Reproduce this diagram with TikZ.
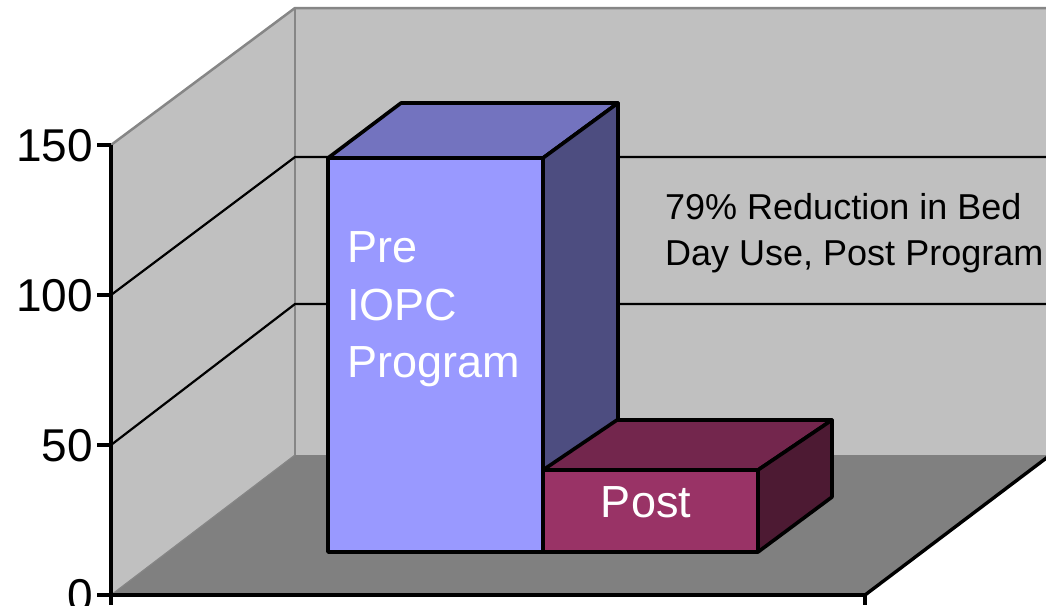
\documentclass[tikz,border=0pt]{standalone}
\usepackage{fontspec}
\setmainfont{Liberation Sans}
\definecolor{wallc}{HTML}{C0C0C0}
\definecolor{floorc}{HTML}{808080}
\definecolor{edgec}{HTML}{868686}
\definecolor{preFront}{HTML}{9999FF}
\definecolor{preTop}{HTML}{7373BF}
\definecolor{preSide}{HTML}{4D4D80}
\definecolor{postFront}{HTML}{993366}
\definecolor{postTop}{HTML}{73264D}
\definecolor{postSide}{HTML}{4D1A33}
\tikzset{
  walledge/.style={draw=edgec, line width=2.5pt, line join=round},
  gridline/.style={draw=black, line width=2.2pt},
  axisline/.style={draw=black, line width=3.4pt},
  barface/.style={draw=black, line width=3.6pt, line join=round},
  axislabel/.style={font=\fontsize{46}{50}\selectfont, anchor=east, inner sep=0pt},
  barlabel/.style={font=\fontsize{45}{50}\selectfont, text=white, inner sep=0pt},
  notelabel/.style={font=\fontsize{36}{40}\selectfont, text=black, inner sep=0pt, anchor=base west}
}
\begin{document}
\begin{tikzpicture}[x=1pt, y=-1pt]
\useasboundingbox (0,0) rectangle (1046,605);
\clip (0,0) rectangle (1046,605);
\fill[white] (0,0) rectangle (1046,605);
% walls and floor
\fill[wallc] (295,8) -- (1060,8) -- (1060,455) -- (295,455) -- cycle;
\fill[wallc] (111,145) -- (295,8) -- (295,455) -- (111,595) -- cycle;
\fill[floorc] (111,595) -- (295,455) -- (1060,455) -- (1049,455) -- (865,595) -- cycle;
\fill[floorc] (1049,455) -- (1060,455) -- (1060,447) -- cycle;
% wall edges
\draw[walledge] (111,145) -- (295,8) -- (1060,8);
\draw[walledge] (295,8) -- (295,455);
\draw[walledge, line width=1.2pt] (111,595) -- (295,455);
% grid lines
\draw[gridline] (111,295) -- (295,157) -- (1060,157);
\draw[gridline] (111,445) -- (295,304) -- (1060,304);
% axes
\draw[axisline] (111,145) -- (111,605);
\draw[axisline] (97,145) -- (111,145);
\draw[axisline] (97,295) -- (111,295);
\draw[axisline] (97,445) -- (111,445);
\draw[axisline] (97,595) -- (865,595) -- (865,605);
\draw[axisline] (865,595) -- (1049,456) -- (1060,448);
% axis labels
\node[axislabel] (l150) at (93,146) {150};
\node[axislabel] (l100) at (93,296) {100};
\node[axislabel] (l50)  at (93,446) {50};
\node[axislabel] (l0)   at (93,596) {0};
% big bar
\filldraw[barface, fill=preFront] (328,158) rectangle (543,552);
\filldraw[barface, fill=preTop] (328,158) -- (401,103) -- (618,103) -- (543,158) -- cycle;
\filldraw[barface, fill=preSide] (543,158) -- (618,103) -- (618,497) -- (543,552) -- cycle;
% post bar
\filldraw[barface, fill=postFront] (543,470) rectangle (758,552);
\filldraw[barface, fill=postTop] (543,470) -- (617,420) -- (832,420) -- (758,470) -- cycle;
\filldraw[barface, fill=postSide] (758,470) -- (832,420) -- (832,497) -- (758,552) -- cycle;
% bar labels
\node[barlabel, anchor=base west] (pre1) at (347,262) {Pre};
\node[barlabel, anchor=base west] (pre2) at (347,320) {IOPC};
\node[barlabel, anchor=base west] (pre3) at (347,377) {Program};
\node[barlabel, anchor=base] (post) at (646,517) {Post};
% note
\node[notelabel] (note1) at (665,219) {79\% Reduction in Bed};
\node[notelabel] (note2) at (665,265) {Day Use, Post Program};
\end{tikzpicture}
\end{document}
